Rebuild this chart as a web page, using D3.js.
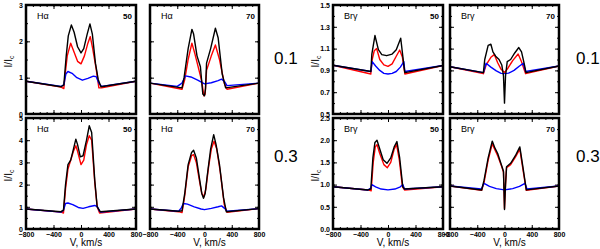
<!DOCTYPE html>
<html>
<head>
<meta charset="utf-8">
<script src="https://cdn.jsdelivr.net/npm/d3@7"></script>
<style>
body { margin: 0; background: #fff; }
svg { display: block; }
text { font-family: "Liberation Sans", Arial, sans-serif; fill: #000; }
</style>
</head>
<body>
<svg id="chart" width="600" height="249"></svg>
<script>
// velocity, I/Ic pairs
// H alpha, row 0.1
var haTop50Black = [[-800,0.90],[-290,0.75],[-250,0.80],[-215,1.6],[-185,2.15],[-140,2.45],[-100,2.25],[-50,1.85],[0,1.68],[40,1.80],[90,2.2],[130,2.48],[165,2.2],[210,1.4],[250,0.95],[290,0.75],[800,0.90]];
var haTop50Red   = [[-800,0.90],[-290,0.74],[-250,0.70],[-230,1.1],[-200,1.6],[-150,1.95],[-100,1.70],[-50,1.45],[0,1.38],[50,1.6],[100,1.95],[135,2.13],[170,1.8],[220,1.25],[260,0.72],[300,0.72],[800,0.90]];
var haTop50Blue  = [[-800,0.90],[-290,0.76],[-250,0.80],[-220,1.10],[-190,1.17],[-130,1.12],[-60,1.0],[20,0.93],[100,0.98],[180,1.04],[220,1.03],[260,0.85],[300,0.76],[800,0.90]];
var haTop70Black = [[-800,0.85],[-330,0.72],[-300,1.0],[-240,1.8],[-185,2.33],[-160,2.2],[-110,1.6],[-60,1.3],[-25,0.55],[0,0.50],[15,0.70],[30,1.4],[90,1.8],[160,2.36],[200,2.1],[260,1.1],[310,0.72],[800,0.85]];
var haTop70Red   = [[-800,0.85],[-330,0.68],[-290,0.95],[-240,1.5],[-185,1.95],[-140,1.65],[-80,1.2],[-40,0.9],[-10,0.50],[10,0.55],[30,1.2],[100,1.6],[160,1.90],[220,1.5],[290,0.85],[330,0.68],[800,0.85]];
var haTop70Blue  = [[-800,0.85],[-400,0.76],[-330,0.85],[-280,1.05],[-200,1.02],[-100,0.93],[0,0.83],[100,0.86],[200,0.92],[250,0.96],[300,0.88],[330,0.78],[800,0.85]];
// H alpha, row 0.3
var haBot50Black = [[-800,0.90],[-290,0.78],[-255,0.85],[-225,2.0],[-190,2.9],[-150,3.1],[-110,3.6],[-75,4.05],[-50,3.8],[-10,3.25],[30,3.3],[80,4.0],[120,4.65],[155,4.35],[200,2.2],[235,1.0],[280,0.78],[800,0.90]];
var haBot50Red   = [[-800,0.90],[-290,0.76],[-255,0.72],[-225,1.8],[-190,2.7],[-150,3.1],[-110,3.5],[-75,3.75],[-50,3.5],[0,2.9],[40,3.1],[80,3.8],[120,4.2],[155,4.0],[200,2.1],[235,1.0],[270,0.72],[800,0.90]];
var haBot50Blue  = [[-800,0.90],[-290,0.76],[-255,0.85],[-225,1.15],[-190,1.17],[-120,1.1],[-40,0.97],[30,0.93],[110,1.0],[200,1.06],[240,1.0],[270,0.8],[290,0.76],[800,0.90]];
var haBot70Black = [[-800,0.90],[-380,0.80],[-330,0.82],[-290,1.6],[-240,2.9],[-190,3.45],[-160,3.55],[-120,3.2],[-70,2.2],[-40,1.6],[-15,1.38],[10,1.6],[40,2.4],[90,3.6],[135,4.25],[170,3.8],[220,2.9],[280,1.4],[320,0.78],[800,0.92]];
var haBot70Red   = [[-800,0.90],[-380,0.78],[-330,0.74],[-290,1.5],[-240,2.8],[-190,3.3],[-160,3.35],[-120,3.0],[-70,2.1],[-40,1.6],[-10,1.45],[20,1.8],[60,2.8],[100,3.6],[140,3.95],[180,3.6],[230,2.6],[290,1.1],[330,0.75],[800,0.92]];
var haBot70Blue  = [[-800,0.90],[-380,0.80],[-340,0.95],[-310,1.15],[-250,1.12],[-150,1.0],[-50,0.9],[0,0.87],[100,0.93],[200,1.0],[250,1.04],[300,0.92],[330,0.8],[800,0.92]];
// Br gamma, row 0.1
var brTop50Black = [[-800,0.947],[-250,0.89],[-235,1.05],[-190,1.22],[-140,1.09],[-90,1.045],[-20,1.035],[60,1.05],[120,1.09],[185,1.195],[230,0.95],[245,0.88],[800,0.945]];
var brTop50Red   = [[-800,0.947],[-250,0.867],[-230,1.0],[-200,1.08],[-165,1.10],[-120,1.0],[-60,0.95],[0,0.937],[60,0.96],[120,1.03],[170,1.087],[210,1.02],[245,0.867],[800,0.945]];
var brTop50Blue  = [[-800,0.947],[-250,0.89],[-230,0.98],[-180,0.94],[-120,0.9],[-60,0.873],[0,0.867],[60,0.873],[120,0.89],[180,0.93],[230,0.98],[245,0.89],[800,0.945]];
var brTop70Black = [[-800,0.934],[-310,0.88],[-290,1.0],[-240,1.13],[-200,1.14],[-170,1.07],[-130,1.03],[-80,1.0],[-40,0.95],[-15,0.85],[0,0.60],[15,0.85],[40,0.98],[90,1.0],[150,1.06],[210,1.11],[250,1.07],[290,0.96],[315,0.88],[800,0.94]];
var brTop70Red   = [[-800,0.934],[-310,0.87],[-270,0.95],[-200,1.02],[-150,1.045],[-100,0.97],[-50,0.91],[0,0.88],[50,0.92],[120,0.99],[200,1.05],[250,0.98],[310,0.87],[800,0.94]];
var brTop70Blue  = [[-800,0.934],[-310,0.88],[-270,0.965],[-200,0.93],[-120,0.895],[-50,0.873],[0,0.87],[60,0.875],[140,0.9],[220,0.94],[275,0.965],[310,0.89],[800,0.94]];
// Br gamma, row 0.3
var brBot50Black = [[-800,0.953],[-290,0.88],[-250,0.9],[-220,1.6],[-190,1.95],[-160,2.0],[-120,1.8],[-70,1.56],[-15,1.48],[40,1.6],[90,1.85],[130,1.97],[170,1.6],[215,0.95],[240,0.9],[800,0.95]];
var brBot50Red   = [[-800,0.953],[-290,0.88],[-245,0.86],[-215,1.5],[-185,1.85],[-160,1.9],[-120,1.7],[-60,1.45],[-10,1.38],[40,1.5],[90,1.8],[125,1.9],[165,1.55],[210,0.95],[240,0.88],[800,0.95]];
var brBot50Blue  = [[-800,0.953],[-290,0.88],[-250,0.92],[-235,1.0],[-180,0.95],[-100,0.9],[0,0.88],[100,0.9],[180,0.95],[215,1.0],[240,0.9],[800,0.95]];
var brBot70Black = [[-800,0.968],[-335,0.878],[-300,1.1],[-240,1.6],[-180,1.98],[-140,1.82],[-100,1.70],[-40,1.42],[-15,1.3],[0,0.44],[15,1.0],[30,1.40],[90,1.48],[160,1.65],[225,1.85],[270,1.4],[320,0.88],[800,0.97]];
var brBot70Red   = [[-800,0.968],[-335,0.87],[-300,1.05],[-240,1.55],[-180,1.92],[-140,1.78],[-100,1.65],[-40,1.4],[-15,1.28],[0,0.46],[15,1.0],[30,1.38],[90,1.45],[160,1.62],[225,1.80],[270,1.35],[320,0.87],[800,0.97]];
var brBot70Blue  = [[-800,0.968],[-340,0.9],[-300,1.03],[-220,0.96],[-120,0.91],[0,0.88],[120,0.91],[220,0.96],[300,1.03],[330,0.9],[800,0.97]];

var xTicks = [-800, -400, 0, 400, 800];
var xMinor = d3.range(-800, 801, 100);
var haTopTicks = [0, 1, 2, 3];
var haBotTicks = [0, 1, 2, 3, 4, 5];
var brTopTicks = [0.5, 0.7, 0.9, 1.1, 1.3, 1.5];
var brBotTicks = [0.0, 0.5, 1.0, 1.5, 2.0, 2.5];
var rowLabels = ["0.1", "0.3"];

var svg = d3.select("#chart");

var panels = [
  {x:26,  y:5,   w:110, h:109, line:"H\u03b1", inc:"50", dom:[0,3],     ticks:haTopTicks, minor:0.5,  fmt:d3.format("d"),   yLab:true,  xLab:false, s:[haTop50Red, haTop50Blue, haTop50Black]},
  {x:150, y:5,   w:109, h:109, line:"H\u03b1", inc:"70", dom:[0,3],     ticks:haTopTicks, minor:0.5,  fmt:d3.format("d"),   yLab:false, xLab:false, s:[haTop70Red, haTop70Blue, haTop70Black]},
  {x:26,  y:118, w:110, h:111, line:"H\u03b1", inc:"50", dom:[0,5],     ticks:haBotTicks, minor:0.5,  fmt:d3.format("d"),   yLab:true,  xLab:true,  s:[haBot50Red, haBot50Blue, haBot50Black]},
  {x:150, y:118, w:109, h:111, line:"H\u03b1", inc:"70", dom:[0,5],     ticks:haBotTicks, minor:0.5,  fmt:d3.format("d"),   yLab:false, xLab:true,  s:[haBot70Red, haBot70Blue, haBot70Black]},
  {x:333, y:5,   w:110, h:109, line:"Br\u03b3", inc:"50", dom:[0.5,1.5], ticks:brTopTicks, minor:0.1,  fmt:d3.format(".1f"), yLab:true,  xLab:false, s:[brTop50Red, brTop50Blue, brTop50Black]},
  {x:450, y:5,   w:109, h:109, line:"Br\u03b3", inc:"70", dom:[0.5,1.5], ticks:brTopTicks, minor:0.1,  fmt:d3.format(".1f"), yLab:false, xLab:false, s:[brTop70Red, brTop70Blue, brTop70Black]},
  {x:333, y:118, w:110, h:111, line:"Br\u03b3", inc:"50", dom:[0,2.5],   ticks:brBotTicks, minor:0.25, fmt:d3.format(".1f"), yLab:true,  xLab:true,  s:[brBot50Red, brBot50Blue, brBot50Black]},
  {x:450, y:118, w:109, h:111, line:"Br\u03b3", inc:"70", dom:[0,2.5],   ticks:brBotTicks, minor:0.25, fmt:d3.format(".1f"), yLab:false, xLab:true,  s:[brBot70Red, brBot70Blue, brBot70Black]}
];
var colors = ["#ff0000", "#0000ff", "#000000"];

panels.forEach(function(p) {
  var g = svg.append("g").attr("transform", "translate(" + p.x + "," + p.y + ")");
  var x = d3.scaleLinear().domain([-800, 800]).range([0, p.w]);
  var y = d3.scaleLinear().domain(p.dom).range([p.h, 0]);
  var yMinor = d3.range(p.dom[0], p.dom[1] + 1e-9, p.minor);

  // inward ticks on all four sides
  function addAxis(axis, tr) {
    var a = g.append("g").attr("transform", tr).call(axis);
    a.select(".domain").remove();
    a.selectAll("line").attr("stroke", "#000").attr("stroke-width", 1);
    a.selectAll("text").style("font-size", "7px").style("font-weight", "bold");
    return a;
  }
  addAxis(d3.axisBottom(x).tickValues(xMinor).tickSize(-2).tickFormat(""), "translate(0," + p.h + ")");
  addAxis(d3.axisTop(x).tickValues(xMinor).tickSize(-2).tickFormat(""), "translate(0,0)");
  addAxis(d3.axisLeft(y).tickValues(yMinor).tickSize(-2).tickFormat(""), "translate(0,0)");
  addAxis(d3.axisRight(y).tickValues(yMinor).tickSize(-2).tickFormat(""), "translate(" + p.w + ",0)");
  addAxis(d3.axisBottom(x).tickValues(xTicks).tickSize(-4).tickPadding(3)
    .tickFormat(p.xLab ? d3.format("d") : ""), "translate(0," + p.h + ")");
  addAxis(d3.axisTop(x).tickValues(xTicks).tickSize(-4).tickFormat(""), "translate(0,0)");
  addAxis(d3.axisLeft(y).tickValues(p.ticks).tickSize(-4).tickPadding(3)
    .tickFormat(p.yLab ? p.fmt : ""), "translate(0,0)");
  addAxis(d3.axisRight(y).tickValues(p.ticks).tickSize(-4).tickFormat(""), "translate(" + p.w + ",0)");

  var line = d3.line().x(function(d) { return x(d[0]); }).y(function(d) { return y(d[1]); });
  p.s.forEach(function(s, i) {
    g.append("path").datum(s)
      .attr("d", line)
      .attr("fill", "none")
      .attr("stroke", colors[i])
      .attr("stroke-width", 1.4)
      .attr("stroke-linejoin", "round");
  });

  g.append("rect")
    .attr("width", p.w).attr("height", p.h)
    .attr("fill", "none").attr("stroke", "#000").attr("stroke-width", 2.5);

  g.append("text").attr("x", 11).attr("y", 14)
    .style("font-size", "9px").text(p.line);
  g.append("text").attr("x", p.w - 4).attr("y", 14)
    .attr("text-anchor", "end").style("font-size", "8px").style("font-weight", "bold").text(p.inc);

  if (p.yLab) {
    var t = g.append("text")
      .attr("transform", "translate(-14," + (p.h / 2 + 2) + ") rotate(-90)")
      .attr("text-anchor", "middle").style("font-size", "10px");
    t.append("tspan").text("I/I");
    t.append("tspan").attr("dy", 2).style("font-size", "7px").text("c");
  }
  if (p.xLab) {
    g.append("text").attr("x", p.w / 2 + 5).attr("y", p.h + 17)
      .attr("text-anchor", "middle").style("font-size", "10px").text("V, km/s");
  }
});

// row labels on the right of each group
[274, 576].forEach(function(xp) {
  rowLabels.forEach(function(lab, i) {
    svg.append("text").attr("x", xp).attr("y", i === 0 ? 64 : 162)
      .style("font-size", "17px").text(lab);
  });
});
</script>
</body>
</html>
